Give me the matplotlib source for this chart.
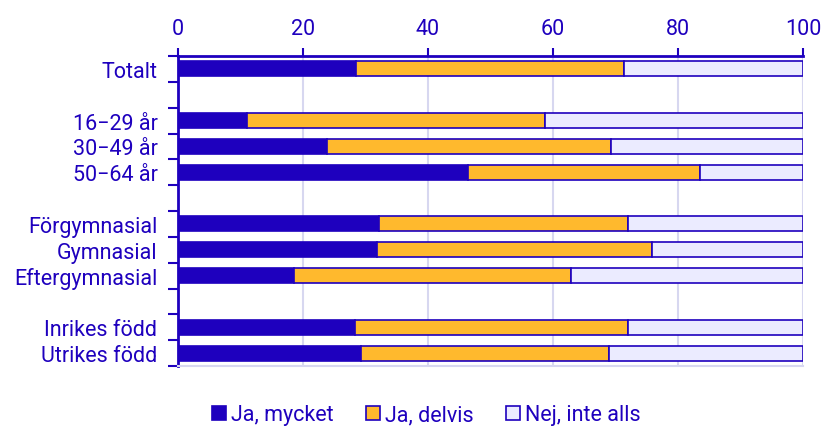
import numpy as np
import matplotlib
matplotlib.use('Agg')
import matplotlib.pyplot as plt
from matplotlib.patches import Patch

plt.rcParams['font.family'] = ['Roboto', 'DejaVu Sans']

BLUE = '#1E00BE'
ORANGE = '#FFB92D'
LILAC = '#EBEBFF'
GRID = '#D7D7F0'

categories = ['Totalt', '16\u221229 år', '30\u221249 år', '50\u221264 år',
              'Förgymnasial', 'Gymnasial', 'Eftergymnasial',
              'Inrikes född', 'Utrikes född']
groups = [0, 1, 1, 1, 2, 2, 2, 3, 3]
ja_mycket = [28.5, 11.1, 23.9, 46.4, 32.2, 31.8, 18.6, 28.3, 29.3]
ja_delvis = [42.9, 47.6, 45.3, 37.0, 39.8, 44.0, 44.3, 43.6, 39.6]
nej = [28.6, 41.3, 30.8, 16.6, 28.0, 24.2, 37.1, 28.1, 31.1]
series_names = ['Ja, mycket', 'Ja, delvis', 'Nej, inte alls']

pos = np.arange(len(categories)) + np.array(groups)
n_slots = pos.max() + 1

fig = plt.figure(figsize=(8.23, 4.31), dpi=100)
ax = fig.add_axes([0.2157, 0.1485, 0.7606, 0.7192])

left = np.zeros(len(categories))
for vals, col in zip([ja_mycket, ja_delvis, nej], [BLUE, ORANGE, LILAC]):
    ax.barh(pos, vals, left=left, height=0.58, color=col,
            edgecolor=BLUE, linewidth=1.2, zorder=3)
    left = left + np.array(vals)

ax.set_xlim(0, 100)
ax.set_ylim(n_slots - 0.5, -0.5)
ax.xaxis.tick_top()
ax.set_xticks([0, 20, 40, 60, 80, 100])
ax.tick_params(axis='x', colors=BLUE, labelcolor=BLUE, labelsize=15.5,
               length=6, width=1.5, direction='out', pad=6)
ax.set_yticks(pos)
ax.set_yticklabels(categories)
ax.tick_params(axis='y', which='major', length=0, labelsize=15.5,
               labelcolor=BLUE, pad=14.5)
ax.set_yticks(np.arange(n_slots + 1) - 0.5, minor=True)
ax.tick_params(axis='y', which='minor', length=7, width=1.5, color=BLUE)

ax.grid(axis='x', color=GRID, linewidth=1.5, zorder=0)
ax.spines['right'].set_visible(False)
ax.spines['bottom'].set_color(GRID)
ax.spines['bottom'].set_linewidth(1.5)
ax.spines['top'].set_color(BLUE)
ax.spines['top'].set_linewidth(2)
ax.spines['left'].set_color(BLUE)
ax.spines['left'].set_linewidth(2)

handles = [Patch(facecolor=c, edgecolor=BLUE, linewidth=1.2)
           for c in [BLUE, ORANGE, LILAC]]
leg = fig.legend(handles, series_names, loc='center', bbox_to_anchor=(0.518, 0.035),
                 ncol=3, frameon=False, fontsize=15.5, handlelength=0.65,
                 handleheight=0.65, handletextpad=0.25, columnspacing=1.5)
for t in leg.get_texts():
    t.set_color(BLUE)

fig.savefig('out.png', dpi=100)
